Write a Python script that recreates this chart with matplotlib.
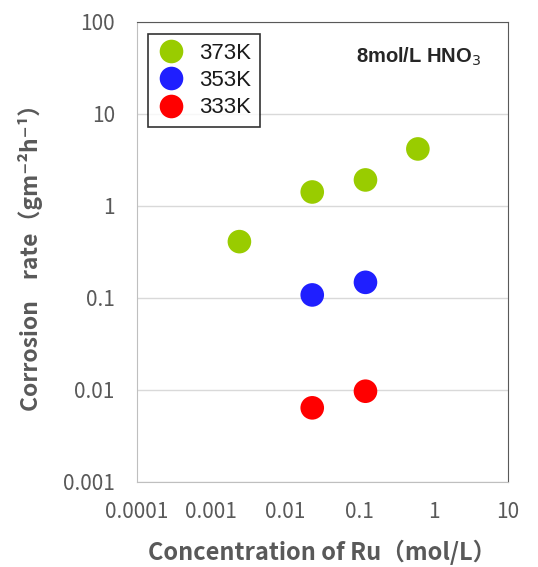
import matplotlib
matplotlib.use("Agg")
import matplotlib.pyplot as plt
from matplotlib.lines import Line2D

plt.rcParams['font.family'] = ['Noto Sans CJK JP', 'DejaVu Sans']

# corrosion rate data
temps = ["373K", "353K", "333K"]
colors = ["#99cc00", "#1f1fff", "#ff0000"]
ru_conc = {
    "373K": [0.0024, 0.023, 0.12, 0.61],
    "353K": [0.023, 0.12],
    "333K": [0.023, 0.12],
}
rate = {
    "373K": [0.41, 1.42, 1.92, 4.17],
    "353K": [0.108, 0.148],
    "333K": [0.0064, 0.0097],
}
xticks = [0.0001, 0.001, 0.01, 0.1, 1, 10]
xticklabels = ["0.0001", "0.001", "0.01", "0.1", "1", "10"]
yticks = [0.001, 0.01, 0.1, 1, 10, 100]
yticklabels = ["0.001", "0.01", "0.1", "1", "10", "100"]

fig = plt.figure(figsize=(5.38, 5.67), dpi=100)
ax = fig.add_axes([137 / 538, 1 - 482 / 567, 371 / 538, 460 / 567])

for t, c in zip(temps, colors):
    ax.scatter(ru_conc[t], rate[t], s=17 ** 2, color=c, edgecolors='none', zorder=3)

ax.set_xscale('log')
ax.set_yscale('log')
ax.set_xlim(0.0001, 10)
ax.set_ylim(0.001, 100)
ax.set_xticks(xticks)
ax.set_xticklabels(xticklabels)
ax.set_yticks(yticks)
ax.set_yticklabels(yticklabels)
ax.minorticks_off()
ax.tick_params(length=0, labelsize=15, colors='#595959')
ax.tick_params(axis='x', pad=14)
ax.tick_params(axis='y', pad=16)
ax.grid(axis='y', color='#d9d9d9', linewidth=1)
ax.set_axisbelow(True)
for side in ['left', 'bottom']:
    ax.spines[side].set_color('#bfbfbf')
for side in ['top', 'right']:
    ax.spines[side].set_color('#595959')

ax.set_xlabel("Concentration of Ru（mol/L）", fontsize=17, fontweight='bold',
              color='#595959', labelpad=12)
ax.set_ylabel("Corrosion    rate（gm⁻²h⁻¹）", fontsize=16.5, fontweight='bold',
              color='#595959', labelpad=14)

handles = [Line2D([], [], marker='o', linestyle='none', markersize=17,
                  markerfacecolor=c, markeredgecolor='none') for c in colors]
leg = ax.legend(handles, temps, loc='upper left', bbox_to_anchor=(0.03, 0.974),
                prop={'family': ['Liberation Sans'], 'size': 16},
                frameon=True, fancybox=False, handletextpad=0.6,
                borderpad=0.4, labelspacing=0.28, handlelength=1.3,
                borderaxespad=0)
leg.get_frame().set_edgecolor('black')
leg.get_frame().set_linewidth(1.2)
for txt in leg.get_texts():
    txt.set_color('#1a1a1a')

ax.text(0.589, 0.925, "8mol/L HNO$_3$", transform=ax.transAxes, fontsize=14.5,
        family=['Liberation Sans'], fontweight='bold', color='#262626', va='center')

fig.savefig("out.png", dpi=100)
